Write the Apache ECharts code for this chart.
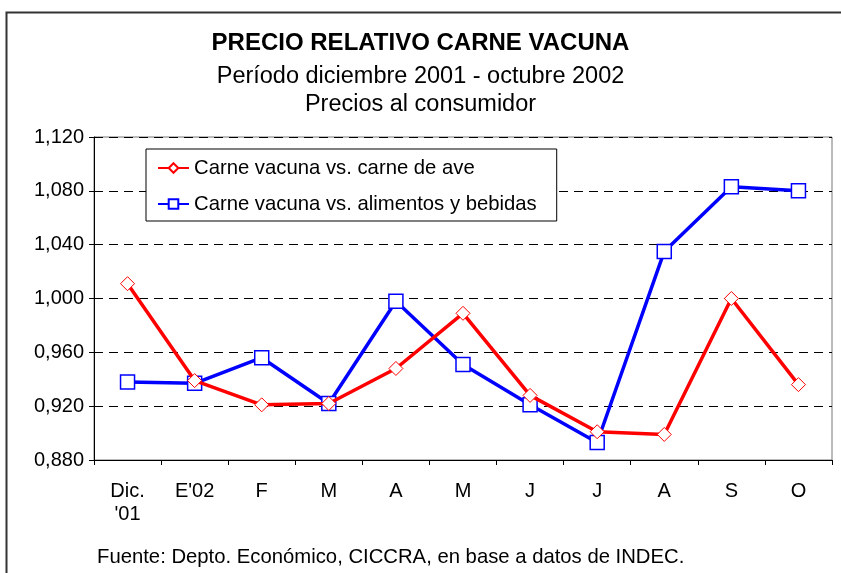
<!DOCTYPE html>
<html>
<head>
<meta charset="utf-8">
<script src="https://cdn.jsdelivr.net/npm/echarts@6/dist/echarts.min.js"></script>
<style>
  html, body { margin: 0; padding: 0; background: #fff; }
  #chart { width: 841px; height: 573px; }
</style>
</head>
<body>
<div id="chart"></div>
<script>
// data
var months = ["Dic.\n'01", "E'02", 'F', 'M', 'A', 'M', 'J', 'J', 'A', 'S', 'O'];
var aveVals = [1.011, 0.939, 0.921, 0.922, 0.948, 0.989, 0.928, 0.901, 0.899, 1.000, 0.936];
var alimVals = [0.938, 0.937, 0.956, 0.922, 0.998, 0.951, 0.921, 0.893, 1.035, 1.083, 1.080];
var serieNames = ['Carne vacuna vs. carne de ave', 'Carne vacuna vs. alimentos y bebidas'];

var font = '"Liberation Sans", Arial, sans-serif';
var myChart = echarts.init(document.getElementById('chart'));

var option = {
    backgroundColor: '#fff',
    animation: false,
    textStyle: { fontFamily: font },
    title: [
        {
            text: 'PRECIO RELATIVO CARNE VACUNA',
            left: 'center', top: 26,
            textStyle: { fontSize: 24, fontWeight: 'bold', color: '#000', fontFamily: font }
        },
        {
            text: 'Período diciembre 2001 - octubre 2002',
            left: 'center', top: 60,
            textStyle: { fontSize: 23.5, fontWeight: 'normal', color: '#000', fontFamily: font }
        },
        {
            text: 'Precios al consumidor',
            left: 'center', top: 88,
            textStyle: { fontSize: 23.5, fontWeight: 'normal', color: '#000', fontFamily: font }
        },
        {
            text: 'Fuente: Depto. Económico, CICCRA, en base a datos de INDEC.',
            left: 92, top: 542,
            textStyle: { fontSize: 20.3, fontWeight: 'normal', color: '#000', fontFamily: font }
        }
    ],
    graphic: [
        {
            type: 'rect',
            shape: { x: 6.5, y: 12.5, width: 900, height: 700 },
            style: { fill: 'none', stroke: '#333', lineWidth: 2 },
            silent: true
        }
    ],
    legend: {
        orient: 'vertical',
        left: 146, top: 149,
        padding: [9, 20, 7, 11],
        itemGap: 16,
        itemWidth: 31,
        itemHeight: 12,
        borderColor: '#000',
        borderWidth: 1,
        backgroundColor: '#fff',
        textStyle: { fontSize: 20.3, color: '#000', fontFamily: font },
        data: serieNames
    },
    grid: {
        left: 94, top: 137, right: 9, bottom: 113,
        show: true, borderColor: '#777', borderWidth: 1
    },
    xAxis: {
        type: 'category',
        data: months,
        boundaryGap: true,
        axisLine: { lineStyle: { color: '#000', width: 1 } },
        axisTick: { show: true, length: 5, lineStyle: { color: '#000' } },
        axisLabel: {
            color: '#000', fontSize: 20, margin: 20, lineHeight: 23,
            interval: 0, fontFamily: font
        }
    },
    yAxis: {
        type: 'value',
        min: 0.88, max: 1.12, interval: 0.04,
        axisLine: { show: true, lineStyle: { color: '#000', width: 1 } },
        axisTick: { show: true, length: 5, lineStyle: { color: '#000' } },
        axisLabel: {
            color: '#000', fontSize: 20, margin: 10, fontFamily: font,
            formatter: function (v) { return v.toFixed(3).replace('.', ','); }
        },
        splitLine: { show: true, lineStyle: { color: '#000', type: [9, 6], width: 1 } }
    },
    series: [
        {
            name: serieNames[0],
            type: 'line',
            data: aveVals,
            symbol: 'diamond',
            symbolSize: 14,
            z: 3,
            lineStyle: { color: '#ff0000', width: 3.5 },
            itemStyle: { color: '#fff', borderColor: '#ff0000', borderWidth: 1 }
        },
        {
            name: serieNames[1],
            type: 'line',
            data: alimVals,
            symbol: 'rect',
            symbolSize: 14,
            z: 2,
            lineStyle: { color: '#0000ff', width: 3.5 },
            itemStyle: { color: '#fff', borderColor: '#0000ff', borderWidth: 1.5 }
        }
    ]
};

if (option && typeof option === "object") {
    myChart.setOption(option, true);
}
</script>
</body>
</html>
